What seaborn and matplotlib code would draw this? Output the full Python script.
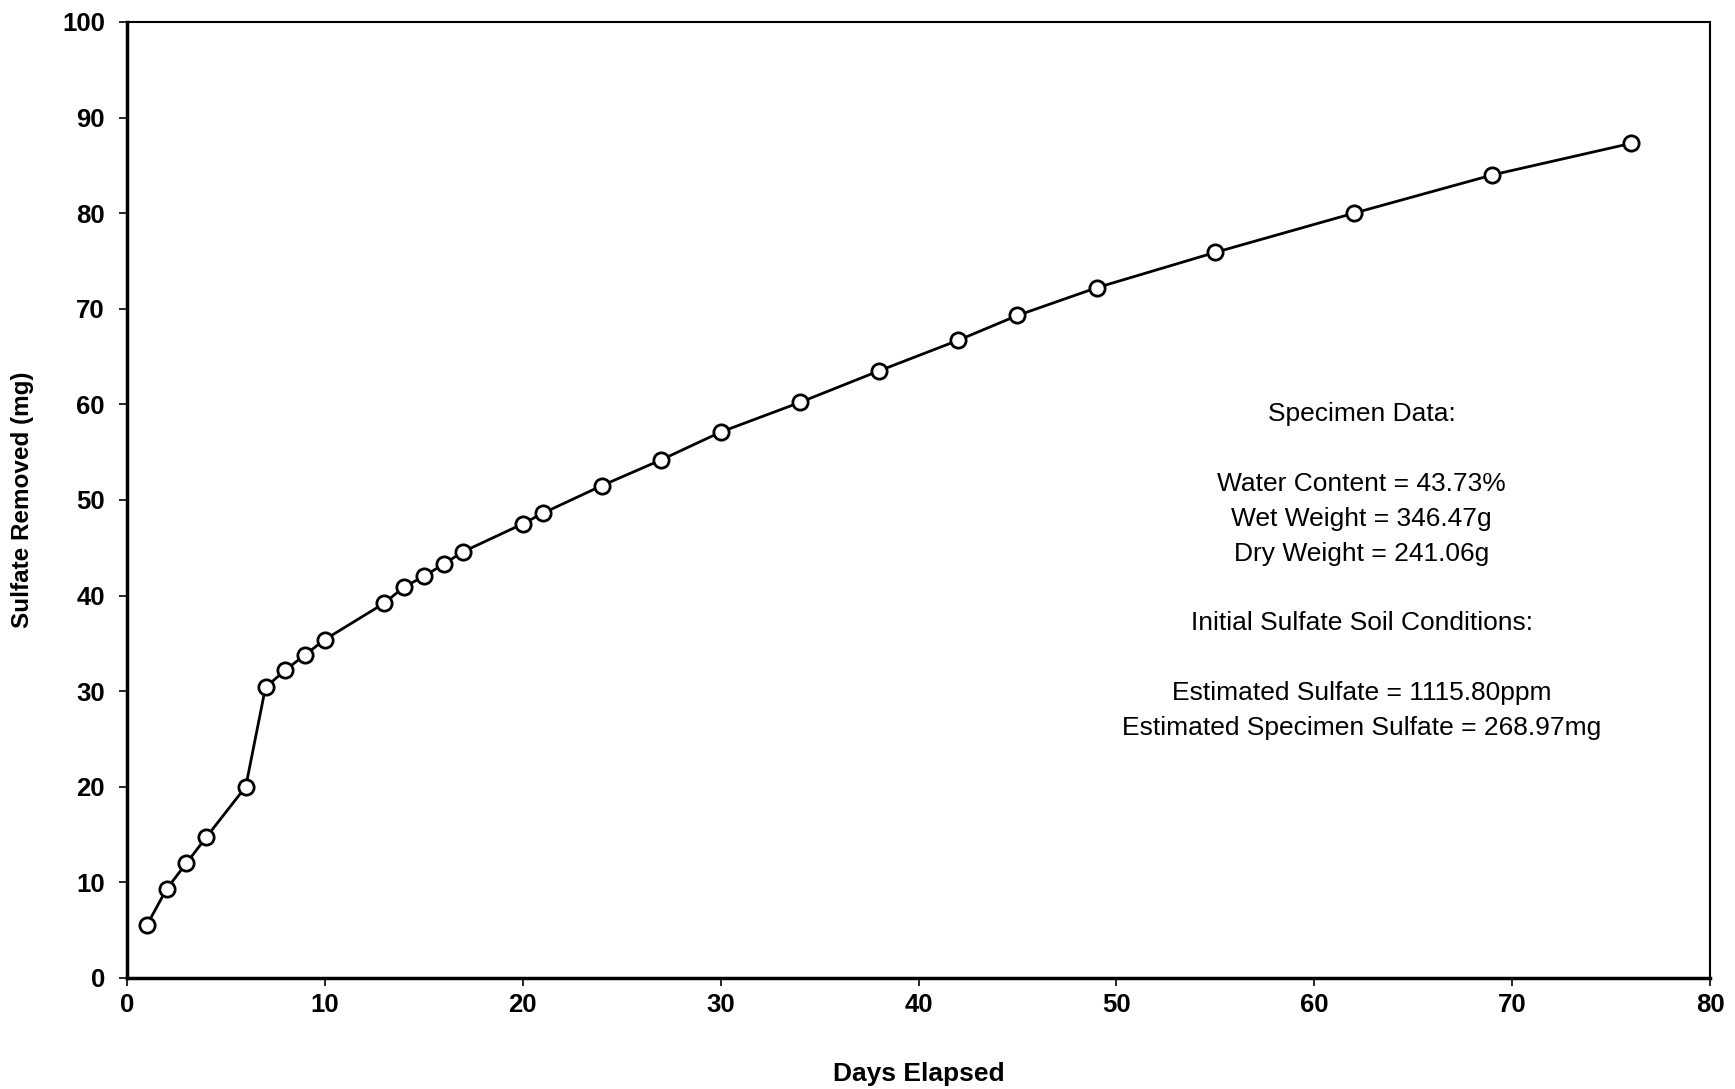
import matplotlib
matplotlib.use("Agg")
import matplotlib.pyplot as plt
import seaborn as sns
import pandas as pd

days = [1, 2, 3, 4, 6, 7, 8, 9, 10, 13, 14, 15, 16, 17, 20, 21, 24, 27, 30,
        34, 38, 42, 45, 49, 55, 62, 69, 76]
sulfate = [5.5, 9.3, 12.0, 14.7, 20.0, 30.4, 32.2, 33.8, 35.4, 39.2, 40.9, 42.0,
           43.3, 44.6, 47.5, 48.6, 51.5, 54.2, 57.1, 60.2, 63.5, 66.7, 69.3,
           72.2, 75.9, 80.0, 84.0, 87.3]
x_ticks = [0, 10, 20, 30, 40, 50, 60, 70, 80]
y_ticks = [0, 10, 20, 30, 40, 50, 60, 70, 80, 90, 100]
notes = ["Specimen Data:", "", "Water Content = 43.73%", "Wet Weight = 346.47g",
         "Dry Weight = 241.06g", "", "Initial Sulfate Soil Conditions:", "",
         "Estimated Sulfate = 1115.80ppm",
         "Estimated Specimen Sulfate = 268.97mg"]

sns.set_theme(style="ticks")
plt.rcParams['font.family'] = ['Liberation Sans', 'DejaVu Sans']
plt.rcParams['text.color'] = 'black'
plt.rcParams['axes.labelcolor'] = 'black'

df = pd.DataFrame({"Days": days, "Sulfate": sulfate})

fig = plt.figure(figsize=(17.35, 10.89), dpi=100)
ax = fig.add_axes([0.0732, 0.102, 0.9124, 0.8778])
sns.lineplot(data=df, x="Days", y="Sulfate", ax=ax, color="black", linewidth=2.0,
             marker="o", markersize=11, markerfacecolor="white",
             markeredgecolor="black", markeredgewidth=2.0)

ax.set_xlim(0, 80)
ax.set_ylim(0, 100)
ax.set_xticks(x_ticks)
ax.set_yticks(y_ticks)
ax.tick_params(axis="both", direction="out", length=6, width=1.2, labelsize=18.5,
               colors="black")
ax.tick_params(axis="x", pad=5)
ax.tick_params(axis="y", pad=10)
for lab in ax.get_xticklabels() + ax.get_yticklabels():
    lab.set_fontweight("bold")
for s in ax.spines.values():
    s.set_visible(True)
    s.set_color("black")
    s.set_linewidth(1.5)
ax.spines["left"].set_linewidth(2.5)
ax.spines["bottom"].set_linewidth(2.5)

ax.set_xlabel("Days Elapsed", fontsize=19, fontweight="bold", labelpad=32)
ax.set_ylabel("Sulfate Removed (mg)", fontsize=17.5, fontweight="bold", labelpad=20)

ax.text(62.4, 60.2, "\n".join(notes), ha="center", va="top", fontsize=19,
        linespacing=1.57, color="black")

fig.savefig("out.png", dpi=100)
